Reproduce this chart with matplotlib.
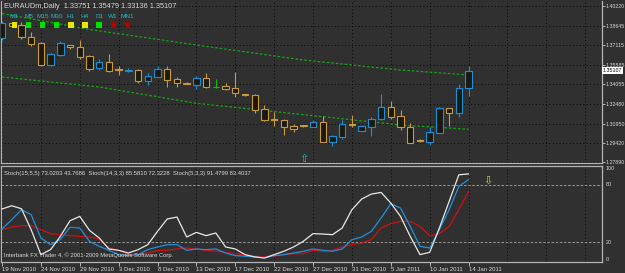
import matplotlib.pyplot as plt
from matplotlib.patches import Rectangle
import numpy as np

# EURAUDm daily bars, 19 Nov 2010 .. 14 Jan 2011 (sunday bars included)
opens = [1.37696, 1.38879, 1.38722, 1.37775, 1.37302, 1.35567, 1.36356, 1.37105, 1.36987, 1.36277,
         1.35331, 1.35804, 1.35212, 1.35071, 1.35173, 1.34305, 1.34621, 1.35252, 1.34463, 1.34172,
         1.33990, 1.34542, 1.33856, 1.33911, 1.33753, 1.33280, 1.33201, 1.32097, 1.31269, 1.31230,
         1.30757, 1.30812, 1.30654, 1.31096, 1.29519, 1.29866, 1.30915, 1.30386, 1.30702, 1.31285,
         1.32255, 1.31545, 1.30654, 1.29653, 1.29519, 1.30230, 1.32153, 1.31758, 1.33751]
highs = [1.39037, 1.38919, 1.38958, 1.38170, 1.37381, 1.36514, 1.37420, 1.37144, 1.37539, 1.36356,
         1.36040, 1.36435, 1.35488, 1.35331, 1.35252, 1.34937, 1.35449, 1.35488, 1.34621, 1.34188,
         1.34700, 1.34937, 1.34440, 1.34148, 1.35015, 1.33296, 1.33280, 1.32373, 1.31861, 1.31309,
         1.30891, 1.30851, 1.31190, 1.31545, 1.30047, 1.31190, 1.31624, 1.30796, 1.31490, 1.33280,
         1.32728, 1.31979, 1.31017, 1.29692, 1.30678, 1.32216, 1.32192, 1.34069, 1.35479]
lows = [1.37539, 1.38564, 1.37618, 1.37066, 1.35488, 1.35488, 1.36277, 1.36829, 1.36040, 1.35094,
        1.35173, 1.35015, 1.34779, 1.35015, 1.34148, 1.33990, 1.34582, 1.33832, 1.33832, 1.34046,
        1.33675, 1.33753, 1.33730, 1.33596, 1.33044, 1.33154, 1.31782, 1.31112, 1.30717, 1.30047,
        1.30307, 1.30694, 1.30638, 1.29456, 1.29180, 1.29692, 1.30678, 1.30362, 1.29968, 1.31230,
        1.31309, 1.30441, 1.29377, 1.29495, 1.29258, 1.30205, 1.30781, 1.31490, 1.33136]
closes = [1.38879, 1.38643, 1.37775, 1.37223, 1.35567, 1.36435, 1.37302, 1.36947, 1.36198, 1.35252,
          1.35804, 1.35094, 1.35134, 1.35134, 1.34305, 1.34700, 1.35252, 1.34384, 1.34148, 1.34069,
          1.34542, 1.33832, 1.33856, 1.33698, 1.33359, 1.33178, 1.32019, 1.31230, 1.31190, 1.30654,
          1.30520, 1.30733, 1.31096, 1.29519, 1.29968, 1.30915, 1.30796, 1.30757, 1.31285, 1.32255,
          1.31490, 1.30654, 1.29440, 1.29551, 1.30284, 1.32153, 1.31758, 1.33730, 1.35107]

date_labels = ['19 Nov 2010', '24 Nov 2010', '29 Nov 2010', '3 Dec 2010', '8 Dec 2010',
               '13 Dec 2010', '17 Dec 2010', '22 Dec 2010', '27 Dec 2010', '31 Dec 2010',
               '5 Jan 2011', '10 Jan 2011', '14 Jan 2011']
label_bars = [0, 4, 8, 12, 16, 20, 24, 28, 32, 36, 40, 44, 48]

price_ticks = [1.40220, 1.38645, 1.37115, 1.35585, 1.34055, 1.32480, 1.30950, 1.29420, 1.27890]
last_price = 1.35107

# green envelope lines, read at a few bars
upper_bars = [0, 9, 20, 31, 41, 48]
upper_vals = [1.39629, 1.38367, 1.37144, 1.35962, 1.35173, 1.34779]
lower_bars = [0, 10, 20, 26, 41, 48]
lower_vals = [1.34621, 1.33832, 1.32547, 1.32058, 1.30836, 1.30497]

# arrows
up_arrow_bar, up_arrow_price = 31, 1.2815
down_arrow_bar, down_arrow_level = 50, 84

# stochastic main lines
stoch_15 = [33.3, 36.1, 37.5, 37.5, 33.3, 29.2, 28.1, 27.1, 26.4, 25.7, 23.6, 14.2, 11.8, 8.0, 7.3,
            9.0, 11.8, 11.8, 13.2, 14.2, 13.2, 11.8, 10.8, 9.7, 8.3, 7.3, 5.6, 4.9, 5.6, 7.3, 8.3,
            8.3, 11.8, 10.8, 11.8, 15.3, 17.7, 19.4, 22.9, 35.1, 39.6, 42.0, 42.0, 36.8, 27.1, 29.2,
            36.8, 54.2, 73.02]
stoch_14 = [34.0, 43.75, 54.2, 49.0, 24.7, 17.7, 22.9, 35.8, 35.1, 21.2, 16.0, 11.8, 7.3, 6.25, 7.3,
            12.5, 15.3, 17.7, 17.7, 11.8, 13.2, 12.5, 13.2, 9.0, 6.25, 5.6, 4.9, 3.8, 6.25, 7.3, 9.0,
            10.8, 13.2, 11.8, 10.8, 13.2, 22.9, 25.7, 31.6, 45.5, 60.4, 55.9, 36.8, 16.0, 14.2, 33.3,
            54.2, 78.5, 85.58]
stoch_5 = [54.9, 58.3, 55.2, 33.3, 7.3, 12.5, 26.4, 42.7, 47.2, 32.6, 24.7, 13.2, 11.8, 9.0, 12.5,
           17.7, 31.6, 44.5, 46.5, 25.7, 30.5, 27.1, 29.9, 15.3, 13.2, 7.3, 4.9, 3.8, 7.3, 10.8, 15.3,
           21.2, 29.2, 28.8, 28.1, 35.1, 54.2, 65.3, 70.5, 72.2, 61.1, 47.2, 26.4, 7.3, 9.7, 35.1,
           62.8, 90.6, 91.48]

timeframes = ['M1', 'M5', 'M15', 'M30', 'H1', 'H4', 'D1', 'W1', 'MN1']
tf_colors = ['#e8e800', '#00e000', '#00e000', '#00e000', '#e8e800', '#e8e800', '#00e000', '#b00000', '#b00000']

BG = '#303030'
FG = '#d8d8d8'
BEAR = '#c89a3c'
BULL = '#1c8fd4'
DOJI = '#10c010'
ENV = '#12a812'
BODY = '#1c1a10'
GRID = '#080808'
BORDER = '#b4b4b4'

plt.rcParams['font.family'] = ['Liberation Sans', 'DejaVu Sans']

W, H = 625, 273
fig = plt.figure(figsize=(W / 100, H / 100), dpi=100)
fig.patch.set_facecolor(BG)

def px_axes(x0, y0, x1, y1):
    return fig.add_axes([x0 / W, 1 - y1 / H, (x1 - x0) / W, (y1 - y0) / H])

ax = px_axes(0.5, 1, 602, 163)
ax2 = px_axes(0.5, 165.5, 602, 262)

xmin, xmax = (0.5 - 2) / 9.72, (602 - 2) / 9.72
for a in (ax, ax2):
    a.set_facecolor(BG)
    a.set_xlim(xmin, xmax)
    for s in a.spines.values():
        s.set_color(BORDER)
        s.set_linewidth(0.9)
    for b in range(0, 64, 4):
        a.axvline(b, color=GRID, lw=0.7, ls=(0, (1, 2.5)), zorder=0)
ax.spines['top'].set_visible(False)

# ---- price panel
ax.set_ylim(1.27838, 1.40614)
for p in price_ticks:
    ax.axhline(p, color=GRID, lw=0.7, ls=(0, (1, 2.5)), zorder=0)

n = len(closes)
for i in range(n):
    o, h, l, c = opens[i], highs[i], lows[i], closes[i]
    col = BULL if c > o else (BEAR if c < o else DOJI)
    ax.vlines(i, l, h, color=col, lw=0.8, zorder=2)
    if c == o:
        ax.hlines(c, i - 0.33, i + 0.33, color=col, lw=0.8, zorder=3)
    else:
        ax.add_patch(Rectangle((i - 0.33, min(o, c)), 0.66, abs(c - o),
                               fc=BODY, ec=col, lw=0.8, zorder=3))

ax.plot(upper_bars, upper_vals, color=ENV, lw=0.9, ls=(0, (2, 1.6)), zorder=1)
ax.plot(lower_bars, lower_vals, color=ENV, lw=0.9, ls=(0, (2, 1.6)), zorder=1)

ax.text(up_arrow_bar, up_arrow_price, '\u21e7', color='#10c8d0', fontsize=8,
        family='DejaVu Sans', ha='center', va='center', zorder=4)

ax.yaxis.tick_right()
ax.set_yticks(price_ticks)
ax.set_yticklabels(['%.5f' % p for p in price_ticks])
ax.tick_params(axis='y', length=2, width=0.7, color=BORDER, pad=0.6, labelsize=3.75, labelcolor=FG)
ax.set_xticks([])
ax.text(1 + 1.0 / 601.5, last_price, '%.5f' % last_price, transform=ax.get_yaxis_transform(),
        color='black', fontsize=3.75, va='center', ha='left', clip_on=False, zorder=6,
        bbox=dict(fc='white', ec='none', pad=0.6))

fig.text(4 / W, 1 - 6 / H, 'EURAUDm,Daily  1.33751 1.35479 1.33136 1.35107', color=FG,
         fontsize=5.3, va='center', ha='left')
for k, (tf, tc) in enumerate(zip(timeframes, tf_colors)):
    cx = 14.5 + 14.1 * k
    fig.text(cx / W, 1 - 17 / H, tf, color='#28b8c8', fontsize=4.6, ha='center', va='center')
    fig.add_artist(Rectangle(((cx - 2.7) / W, 1 - 27.5 / H), 5.4 / W, 5.4 / H,
                             transform=fig.transFigure, fc=tc, ec='none', zorder=5))

# ---- stochastic panel
ax2.set_ylim(-0.4, 100.3)
ax2.axhline(80, color='#a8a8a8', lw=0.6, ls=(0, (3, 2)), zorder=1)
ax2.axhline(20, color='#a8a8a8', lw=0.6, ls=(0, (3, 2)), zorder=1)
x = np.arange(n)
ax2.plot(x, stoch_15, color='#d01010', lw=0.9, zorder=2)
ax2.plot(x, stoch_14, color='#2090dc', lw=0.9, zorder=3)
ax2.plot(x, stoch_5, color='#e8e8e8', lw=0.9, zorder=4)
ax2.text(down_arrow_bar, down_arrow_level, '\u21e9', color='#d8d800', fontsize=8,
         family='DejaVu Sans', ha='center', va='center', zorder=4)

ax2.set_yticks([])
for lv, lab, va in [(100, '100', 'top'), (80, '80', 'center'), (20, '20', 'center'), (0, '0', 'bottom')]:
    ax2.text(1 + 4 / 601.5, lv, lab, transform=ax2.get_yaxis_transform(), color=FG,
             fontsize=3.9, va=va, ha='left', clip_on=False)

ax2.text(4 / 601.5, 0.94, 'Stoch(15,5,5) 73.0203 43.7686  Stoch(14,3,3) 85.5810 72.3228  '
         'Stoch(5,3,3) 91.4799 83.4037', transform=ax2.transAxes, color=FG, fontsize=4.2,
         va='top', ha='left')
ax2.text(4 / 601.5, 0.045, 'Interbank FX Trader 4, \u00a9 2001-2009 MetaQuotes Software Corp.',
         transform=ax2.transAxes, color=FG, fontsize=4.2, va='bottom', ha='left')

ax2.set_xticks(label_bars)
ax2.set_xticklabels(date_labels, ha='left')
ax2.tick_params(axis='x', length=3, width=0.7, color=BORDER, pad=0.8, labelsize=4.3, labelcolor=FG)

fig.savefig('out.png', dpi=100, facecolor=BG)
